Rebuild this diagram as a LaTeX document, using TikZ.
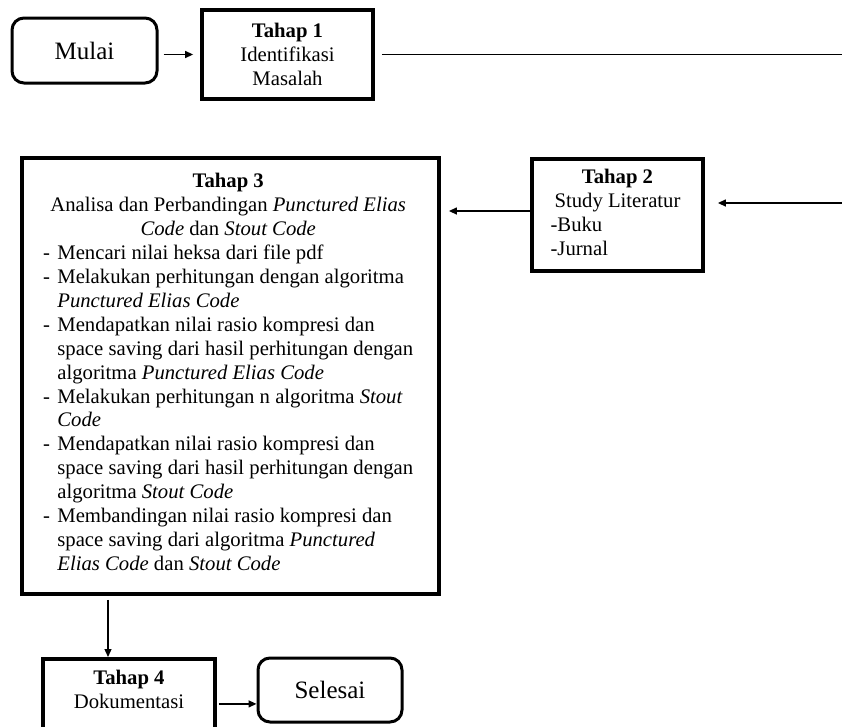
\documentclass[tikz,border=0pt]{standalone}
\usepackage{fontspec}
\setmainfont{Liberation Serif}
\usetikzlibrary{arrows.meta}
\begin{document}
\begin{tikzpicture}[x=1pt,y=-1pt,
  tbox/.style={draw, line width=3.8pt, inner sep=0pt, align=center,
    font=\fontsize{20.7}{23.9}\selectfont},
  rbox/.style={draw, line width=3pt, rounded corners=12pt, inner sep=0pt,
    font=\fontsize{25}{28}\selectfont},
  txt/.style={inner sep=0pt, align=center, font=\fontsize{20.7}{23.9}\selectfont},
  conn/.style={line width=1.3pt},
  arr/.style={line width=1.3pt, -{Triangle[length=8pt,width=7pt]}}]
\useasboundingbox (0,0) rectangle (842,726);
\clip (0,0) rectangle (842,726);

% nodes
\node[rbox, minimum width=145pt, minimum height=65pt] (mulai) at (84.5,50.5) {\raisebox{-2pt}{Mulai}};
\node[tbox, minimum width=171pt, minimum height=89pt] (t1) at (287.5,54.5)
  {\textbf{Tahap 1}\\Identifikasi\\Masalah};
\node[tbox, minimum width=171pt, minimum height=112pt] (t2) at (617.5,215)
  {\begin{tabular}{@{}l@{}}
   \multicolumn{1}{@{}c@{}}{\textbf{Tahap 2}}\\
   \multicolumn{1}{@{}c@{}}{Study Literatur}\\
   \hspace*{-4pt}-Buku\\
   \hspace*{-4pt}-Jurnal
   \end{tabular}};
\node[tbox, minimum width=417pt, minimum height=436pt] (t3) at (230.5,376) {};
\node[txt, anchor=north west] (t3txt) at (43,171)
  {\begin{tabular}{@{}l@{\hspace{7.3pt}}l@{}}
   \multicolumn{2}{@{}c@{}}{\textbf{Tahap 3}}\\
   \multicolumn{2}{@{}c@{}}{Analisa dan Perbandingan \textit{Punctured Elias}}\\
   \multicolumn{2}{@{}c@{}}{\textit{Code} dan \textit{Stout Code}}\\
   - & Mencari nilai heksa dari file pdf\\
   - & Melakukan perhitungan dengan algoritma\\
     & \textit{Punctured Elias Code}\\
   - & Mendapatkan nilai rasio kompresi dan\\
     & space saving dari hasil perhitungan dengan\\
     & algoritma \textit{Punctured Elias Code}\\
   - & Melakukan perhitungan n algoritma \textit{Stout}\\
     & \textit{Code}\\
   - & Mendapatkan nilai rasio kompresi dan\\
     & space saving dari hasil perhitungan dengan\\
     & algoritma \textit{Stout Code}\\
   - & Membandingan nilai rasio kompresi dan\\
     & space saving dari algoritma \textit{Punctured}\\
     & \textit{Elias Code} dan \textit{Stout Code}
   \end{tabular}};
\node[tbox, minimum width=172pt, minimum height=90pt, anchor=north] (t4) at (129,657) {};
\node[txt] (t4txt) at (129,689) {\textbf{Tahap 4}\\Dokumentasi};
\node[rbox, minimum width=144pt, minimum height=64pt] (selesai) at (330,690) {Selesai};

% free ends
\coordinate (e1) at (842,54.5);
\coordinate (e2) at (842,203);
\coordinate (dx) at (108,0);
\coordinate (t2out) at ([yshift=4pt]t2.west);

% connectors
\draw[arr] ([xshift=5pt]mulai.east |- t1.west) -- ([xshift=-7pt]t1.west);
\draw[conn] ([xshift=7pt]t1.east) -- (e1);
\draw[arr] (e2) -- ([xshift=13pt]t2.east |- e2);
\draw[arr] (t2out) -- ([xshift=8pt]t3.east |- t2out);
\draw[arr] ([yshift=-4pt]t3.south -| dx) -- (t4.north -| dx);
\draw[arr] ([xshift=2pt]t4.east) -- (t4.east -| selesai.west);
\end{tikzpicture}
\end{document}
